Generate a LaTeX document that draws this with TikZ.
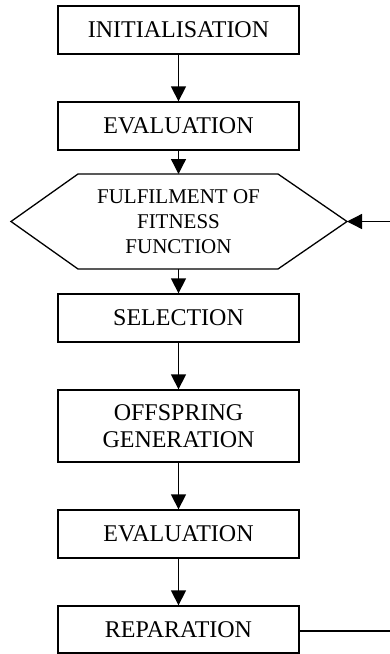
\documentclass[tikz,border=0pt]{standalone}
\usepackage{fontspec}
\setmainfont{Liberation Serif}
\usetikzlibrary{arrows.meta}
\begin{document}
\begin{tikzpicture}[x=1pt,y=-1pt,
  stepbox/.style={draw, line width=1.3pt, rectangle, minimum width=241pt,
    minimum height=48pt, inner sep=0pt, align=center,
    font=\fontsize{24}{27}\selectfont},
  flow/.style={line width=1.3pt, -{Triangle[length=15pt,width=15pt]}},
  link/.style={line width=1.3pt}]
\useasboundingbox (0,0) rectangle (390,654);

\node[stepbox] (init) at (178.5,30) {INITIALISATION};
\node[stepbox] (eval1) at (178.5,126) {EVALUATION};

% decision hexagon
\coordinate (hexL) at (11,221.5);
\coordinate (hexR) at (347,221.5);
\draw[link, line join=miter] (hexL) -- (78,174) -- (278,174) -- (hexR) -- (278,269) -- (78,269) -- cycle;
\coordinate (hexT) at (178.5,174);
\coordinate (hexB) at (178.5,269);
\node[align=center, inner sep=0pt, font=\fontsize{21}{25}\selectfont] (fit) at (178.5,221.5)
  {FULFILMENT OF\\FITNESS\\FUNCTION};

\node[stepbox] (sel) at (178.5,318) {SELECTION};
\node[stepbox, minimum height=72pt] (off) at (178.5,426) {OFFSPRING\\GENERATION};
\node[stepbox] (eval2) at (178.5,534) {EVALUATION};
\node[stepbox, minimum height=47pt] (rep) at (178.5,629.5) {REPARATION};

% main flow
\draw[flow] (init) -- (eval1);
\draw[flow] (eval1) -- (hexT);
\draw[flow] (hexB) -- (sel);
\draw[flow] (sel) -- (off);
\draw[flow] (off) -- (eval2);
\draw[flow] (eval2) -- (rep);

% feedback loop
\coordinate (loopOut) at (392,631);
\coordinate (loopIn) at (392,221.5);
\draw[link] (rep.east |- loopOut) -- (loopOut);
\draw[flow] (loopIn) -- (hexR);
\end{tikzpicture}
\end{document}
